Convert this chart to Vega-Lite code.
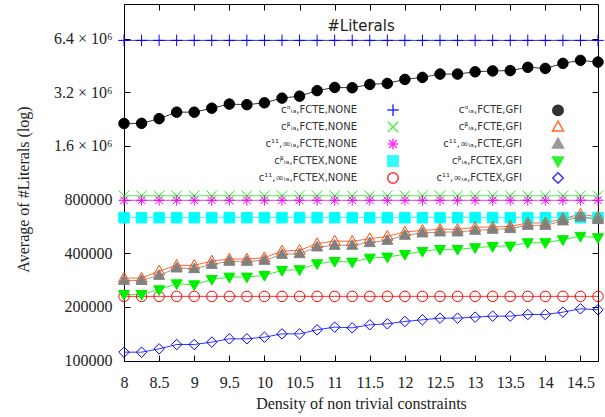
{
  "$schema": "https://vega.github.io/schema/vega-lite/v6.json",
  "width": 474,
  "height": 357,
  "autosize": {"type": "none"},
  "padding": {"left": 124, "top": 4, "right": 7, "bottom": 56},
  "background": "white",
  "config": {
    "view": {"stroke": "black", "strokeWidth": 1},
    "axis": {
      "grid": false, "domain": false, "ticks": true, "tickColor": "black", "tickWidth": 1, "tickSize": -6,
      "labelFont": "Liberation Serif", "labelFontSize": 16, "labelColor": "#222",
      "titleFont": "Liberation Serif", "titleFontSize": 16, "titleFontWeight": "normal", "titleColor": "#222"
    },
    "legend": {
      "title": null, "orient": "none", "legendX": 263, "legendY": 100, "direction": "vertical", "columns": 2,
      "labelFont": "DejaVu Sans", "labelFontSize": 10, "labelColor": "#333", "labelAlign": "right", "labelOffset": -42, "labelLimit": 300,
      "symbolSize": 110, "rowPadding": -1, "columnPadding": 34
    }
  },
  "title": {"text": "#Literals", "frame": "group", "anchor": "middle", "offset": -42, "baseline": "alphabetic", "font": "DejaVu Sans", "fontSize": 15, "fontWeight": "normal", "color": "#222"},
  "data": {"values": [
    {"x":8,"s":"A","y":6250000},{"x":8.25,"s":"A","y":6250000},{"x":8.5,"s":"A","y":6250000},{"x":8.75,"s":"A","y":6250000},{"x":9,"s":"A","y":6250000},{"x":9.25,"s":"A","y":6250000},{"x":9.5,"s":"A","y":6250000},{"x":9.75,"s":"A","y":6250000},{"x":10,"s":"A","y":6250000},{"x":10.25,"s":"A","y":6250000},{"x":10.5,"s":"A","y":6250000},{"x":10.75,"s":"A","y":6250000},{"x":11,"s":"A","y":6250000},{"x":11.25,"s":"A","y":6250000},{"x":11.5,"s":"A","y":6250000},{"x":11.75,"s":"A","y":6250000},{"x":12,"s":"A","y":6250000},{"x":12.25,"s":"A","y":6250000},{"x":12.5,"s":"A","y":6250000},{"x":12.75,"s":"A","y":6250000},{"x":13,"s":"A","y":6250000},{"x":13.25,"s":"A","y":6250000},{"x":13.5,"s":"A","y":6250000},{"x":13.75,"s":"A","y":6250000},{"x":14,"s":"A","y":6250000},{"x":14.25,"s":"A","y":6250000},{"x":14.5,"s":"A","y":6250000},{"x":14.75,"s":"A","y":6250000},
    {"x":8,"s":"B","y":840000},{"x":8.25,"s":"B","y":840000},{"x":8.5,"s":"B","y":840000},{"x":8.75,"s":"B","y":840000},{"x":9,"s":"B","y":840000},{"x":9.25,"s":"B","y":840000},{"x":9.5,"s":"B","y":840000},{"x":9.75,"s":"B","y":840000},{"x":10,"s":"B","y":840000},{"x":10.25,"s":"B","y":840000},{"x":10.5,"s":"B","y":840000},{"x":10.75,"s":"B","y":840000},{"x":11,"s":"B","y":840000},{"x":11.25,"s":"B","y":840000},{"x":11.5,"s":"B","y":840000},{"x":11.75,"s":"B","y":840000},{"x":12,"s":"B","y":840000},{"x":12.25,"s":"B","y":840000},{"x":12.5,"s":"B","y":840000},{"x":12.75,"s":"B","y":840000},{"x":13,"s":"B","y":840000},{"x":13.25,"s":"B","y":840000},{"x":13.5,"s":"B","y":840000},{"x":13.75,"s":"B","y":840000},{"x":14,"s":"B","y":840000},{"x":14.25,"s":"B","y":840000},{"x":14.5,"s":"B","y":840000},{"x":14.75,"s":"B","y":840000},
    {"x":8,"s":"C","y":792000},{"x":8.25,"s":"C","y":792000},{"x":8.5,"s":"C","y":792000},{"x":8.75,"s":"C","y":792000},{"x":9,"s":"C","y":792000},{"x":9.25,"s":"C","y":792000},{"x":9.5,"s":"C","y":792000},{"x":9.75,"s":"C","y":792000},{"x":10,"s":"C","y":792000},{"x":10.25,"s":"C","y":792000},{"x":10.5,"s":"C","y":792000},{"x":10.75,"s":"C","y":792000},{"x":11,"s":"C","y":792000},{"x":11.25,"s":"C","y":792000},{"x":11.5,"s":"C","y":792000},{"x":11.75,"s":"C","y":792000},{"x":12,"s":"C","y":792000},{"x":12.25,"s":"C","y":792000},{"x":12.5,"s":"C","y":792000},{"x":12.75,"s":"C","y":792000},{"x":13,"s":"C","y":792000},{"x":13.25,"s":"C","y":792000},{"x":13.5,"s":"C","y":792000},{"x":13.75,"s":"C","y":792000},{"x":14,"s":"C","y":792000},{"x":14.25,"s":"C","y":792000},{"x":14.5,"s":"C","y":792000},{"x":14.75,"s":"C","y":792000},
    {"x":8,"s":"D","y":633000},{"x":8.25,"s":"D","y":633000},{"x":8.5,"s":"D","y":633000},{"x":8.75,"s":"D","y":633000},{"x":9,"s":"D","y":633000},{"x":9.25,"s":"D","y":633000},{"x":9.5,"s":"D","y":633000},{"x":9.75,"s":"D","y":633000},{"x":10,"s":"D","y":633000},{"x":10.25,"s":"D","y":633000},{"x":10.5,"s":"D","y":633000},{"x":10.75,"s":"D","y":633000},{"x":11,"s":"D","y":633000},{"x":11.25,"s":"D","y":633000},{"x":11.5,"s":"D","y":633000},{"x":11.75,"s":"D","y":633000},{"x":12,"s":"D","y":633000},{"x":12.25,"s":"D","y":633000},{"x":12.5,"s":"D","y":633000},{"x":12.75,"s":"D","y":633000},{"x":13,"s":"D","y":633000},{"x":13.25,"s":"D","y":633000},{"x":13.5,"s":"D","y":633000},{"x":13.75,"s":"D","y":633000},{"x":14,"s":"D","y":633000},{"x":14.25,"s":"D","y":633000},{"x":14.5,"s":"D","y":633000},{"x":14.75,"s":"D","y":633000},
    {"x":8,"s":"E","y":229000},{"x":8.25,"s":"E","y":229000},{"x":8.5,"s":"E","y":229000},{"x":8.75,"s":"E","y":229000},{"x":9,"s":"E","y":229000},{"x":9.25,"s":"E","y":229000},{"x":9.5,"s":"E","y":229000},{"x":9.75,"s":"E","y":229000},{"x":10,"s":"E","y":229000},{"x":10.25,"s":"E","y":229000},{"x":10.5,"s":"E","y":229000},{"x":10.75,"s":"E","y":229000},{"x":11,"s":"E","y":229000},{"x":11.25,"s":"E","y":229000},{"x":11.5,"s":"E","y":229000},{"x":11.75,"s":"E","y":229000},{"x":12,"s":"E","y":229000},{"x":12.25,"s":"E","y":229000},{"x":12.5,"s":"E","y":229000},{"x":12.75,"s":"E","y":229000},{"x":13,"s":"E","y":229000},{"x":13.25,"s":"E","y":229000},{"x":13.5,"s":"E","y":229000},{"x":13.75,"s":"E","y":229000},{"x":14,"s":"E","y":229000},{"x":14.25,"s":"E","y":229000},{"x":14.5,"s":"E","y":229000},{"x":14.75,"s":"E","y":229000},
    {"x":8,"s":"F","y":2137000},{"x":8.25,"s":"F","y":2140000},{"x":8.5,"s":"F","y":2274000},{"x":8.75,"s":"F","y":2474000},{"x":9,"s":"F","y":2474000},{"x":9.25,"s":"F","y":2604000},{"x":9.5,"s":"F","y":2744000},{"x":9.75,"s":"F","y":2725000},{"x":10,"s":"F","y":2789000},{"x":10.25,"s":"F","y":2965000},{"x":10.5,"s":"F","y":3042000},{"x":10.75,"s":"F","y":3266000},{"x":11,"s":"F","y":3404000},{"x":11.25,"s":"F","y":3390000},{"x":11.5,"s":"F","y":3539000},{"x":11.75,"s":"F","y":3585000},{"x":12,"s":"F","y":3776000},{"x":12.25,"s":"F","y":3875000},{"x":12.5,"s":"F","y":4044000},{"x":12.75,"s":"F","y":4044000},{"x":13,"s":"F","y":4166000},{"x":13.25,"s":"F","y":4214000},{"x":13.5,"s":"F","y":4230000},{"x":13.75,"s":"F","y":4415000},{"x":14,"s":"F","y":4353000},{"x":14.25,"s":"F","y":4644000},{"x":14.5,"s":"F","y":4828000},{"x":14.75,"s":"F","y":4723000},
    {"x":8,"s":"G","y":290100},{"x":8.25,"s":"G","y":290000},{"x":8.5,"s":"G","y":317700},{"x":8.75,"s":"G","y":341800},{"x":9,"s":"G","y":342000},{"x":9.25,"s":"G","y":361500},{"x":9.5,"s":"G","y":370900},{"x":9.75,"s":"G","y":371000},{"x":10,"s":"G","y":377400},{"x":10.25,"s":"G","y":411400},{"x":10.5,"s":"G","y":415000},{"x":10.75,"s":"G","y":452300},{"x":11,"s":"G","y":468200},{"x":11.25,"s":"G","y":466200},{"x":11.5,"s":"G","y":482600},{"x":11.75,"s":"G","y":497400},{"x":12,"s":"G","y":526000},{"x":12.25,"s":"G","y":537500},{"x":12.5,"s":"G","y":544500},{"x":12.75,"s":"G","y":544500},{"x":13,"s":"G","y":558700},{"x":13.25,"s":"G","y":561200},{"x":13.5,"s":"G","y":566000},{"x":13.75,"s":"G","y":591000},{"x":14,"s":"G","y":591000},{"x":14.25,"s":"G","y":625000},{"x":14.5,"s":"G","y":662000},{"x":14.75,"s":"G","y":639000},
    {"x":8,"s":"H","y":281400},{"x":8.25,"s":"H","y":281000},{"x":8.5,"s":"H","y":300300},{"x":8.75,"s":"H","y":330200},{"x":9,"s":"H","y":327300},{"x":9.25,"s":"H","y":346200},{"x":9.5,"s":"H","y":359900},{"x":9.75,"s":"H","y":360000},{"x":10,"s":"H","y":364600},{"x":10.25,"s":"H","y":393900},{"x":10.5,"s":"H","y":397300},{"x":10.75,"s":"H","y":433200},{"x":11,"s":"H","y":442700},{"x":11.25,"s":"H","y":443000},{"x":11.5,"s":"H","y":458200},{"x":11.75,"s":"H","y":472200},{"x":12,"s":"H","y":503800},{"x":12.25,"s":"H","y":519300},{"x":12.5,"s":"H","y":526000},{"x":12.75,"s":"H","y":526000},{"x":13,"s":"H","y":537500},{"x":13.25,"s":"H","y":544500},{"x":13.5,"s":"H","y":549200},{"x":13.75,"s":"H","y":573300},{"x":14,"s":"H","y":573300},{"x":14.25,"s":"H","y":606500},{"x":14.5,"s":"H","y":638700},{"x":14.75,"s":"H","y":617000},
    {"x":8,"s":"I","y":234900},{"x":8.25,"s":"I","y":235000},{"x":8.5,"s":"I","y":249500},{"x":8.75,"s":"I","y":269600},{"x":9,"s":"I","y":266100},{"x":9.25,"s":"I","y":285100},{"x":9.5,"s":"I","y":293800},{"x":9.75,"s":"I","y":294000},{"x":10,"s":"I","y":300300},{"x":10.25,"s":"I","y":320400},{"x":10.5,"s":"I","y":323200},{"x":10.75,"s":"I","y":349300},{"x":11,"s":"I","y":359900},{"x":11.25,"s":"I","y":356800},{"x":11.5,"s":"I","y":375700},{"x":11.75,"s":"I","y":380600},{"x":12,"s":"I","y":393900},{"x":12.25,"s":"I","y":409700},{"x":12.5,"s":"I","y":420400},{"x":12.75,"s":"I","y":420400},{"x":13,"s":"I","y":429500},{"x":13.25,"s":"I","y":436900},{"x":13.5,"s":"I","y":438800},{"x":13.75,"s":"I","y":458200},{"x":14,"s":"I","y":458200},{"x":14.25,"s":"I","y":476400},{"x":14.5,"s":"I","y":497400},{"x":14.75,"s":"I","y":488900},
    {"x":8,"s":"J","y":111400},{"x":8.25,"s":"J","y":111400},{"x":8.5,"s":"J","y":116300},{"x":8.75,"s":"J","y":123000},{"x":9,"s":"J","y":123000},{"x":9.25,"s":"J","y":126800},{"x":9.5,"s":"J","y":132400},{"x":9.75,"s":"J","y":132400},{"x":10,"s":"J","y":135200},{"x":10.25,"s":"J","y":141100},{"x":10.5,"s":"J","y":141100},{"x":10.75,"s":"J","y":148700},{"x":11,"s":"J","y":153900},{"x":11.25,"s":"J","y":152600},{"x":11.5,"s":"J","y":158600},{"x":11.75,"s":"J","y":160700},{"x":12,"s":"J","y":165600},{"x":12.25,"s":"J","y":169200},{"x":12.5,"s":"J","y":172900},{"x":12.75,"s":"J","y":172900},{"x":13,"s":"J","y":175200},{"x":13.25,"s":"J","y":177400},{"x":13.5,"s":"J","y":177400},{"x":13.75,"s":"J","y":181300},{"x":14,"s":"J","y":181300},{"x":14.25,"s":"J","y":186800},{"x":14.5,"s":"J","y":195100},{"x":14.75,"s":"J","y":192600}
  ]},
  "layer": [
    {
      "mark": {"type": "line", "strokeWidth": 1, "opacity": 0.8},
      "encoding": {
        "x": {"field": "x", "type": "quantitative", "scale": {"domain": [8, 14.75], "nice": false, "zero": false},
          "axis": {"orient": "bottom", "values": [8, 8.5, 9, 9.5, 10, 10.5, 11, 11.5, 12, 12.5, 13, 13.5, 14, 14.5], "format": "~g", "labelFlush": false, "labelPadding": 19, "title": "Density of non trivial constraints", "titleY": 47, "titleBaseline": "alphabetic"}},
        "y": {"field": "y", "type": "quantitative", "scale": {"type": "log", "domain": [99400, 10000000], "nice": false},
          "axis": {"orient": "left", "values": [100000, 200000, 400000, 800000, 1600000, 3200000, 6400000], "labelExpr": "datum.value >= 1000000 ? format(datum.value / 1000000, '.1f') + ' × 10⁶' : format(datum.value, 'd')", "labelPadding": 18, "labelFlush": false, "title": "Average of #Literals (log)", "titleX": -101, "titleY": 185, "titleAngle": -90, "titleBaseline": "middle"}},
        "stroke": {"field": "s", "type": "nominal",
          "scale": {"domain": ["A","B","C","D","E","F","G","H","I","J"], "range": ["#0000ff","#22ee22","#ff00ff","#00ffff","#ff0000","#000000","#ff4500","#808080","#00ee00","#0000ff"]},
          "legend": {
            "labelExpr": "['cᵅᵢₐ,FCTE,NONE','cᵝᵢₐ,FCTE,NONE','c¹¹,∞ᵢₐ,FCTE,NONE','cᵝᵢₐ,FCTEX,NONE','c¹¹,∞ᵢₐ,FCTEX,NONE','cᵅᵢₐ,FCTE,GFI','cᵝᵢₐ,FCTE,GFI','c¹¹,∞ᵢₐ,FCTE,GFI','cᵝᵢₐ,FCTEX,GFI','c¹¹,∞ᵢₐ,FCTEX,GFI'][indexof(['A','B','C','D','E','F','G','H','I','J'], datum.value)]"
          }}
      }
    },
    {
      "mark": {"type": "point", "size": 110, "strokeWidth": 1, "opacity": 1},
      "encoding": {
        "x": {"field": "x", "type": "quantitative", "scale": {"domain": [8, 14.75], "nice": false, "zero": false},
          "axis": {"orient": "top", "values": [8, 8.5, 9, 9.5, 10, 10.5, 11, 11.5, 12, 12.5, 13, 13.5, 14, 14.5], "labels": false, "title": null}},
        "y": {"field": "y", "type": "quantitative", "scale": {"type": "log", "domain": [99400, 10000000], "nice": false},
          "axis": {"orient": "right", "values": [100000, 200000, 400000, 800000, 1600000, 3200000, 6400000], "labels": false, "title": null}},
        "stroke": {"field": "s", "type": "nominal",
          "scale": {"domain": ["A","B","C","D","E","F","G","H","I","J"], "range": ["#0000ff","#22ee22","#ff00ff","#00ffff","#ff0000","#000000","#ff4500","#808080","#00ee00","#0000ff"]},
          "legend": {
            "labelExpr": "['cᵅᵢₐ,FCTE,NONE','cᵝᵢₐ,FCTE,NONE','c¹¹,∞ᵢₐ,FCTE,NONE','cᵝᵢₐ,FCTEX,NONE','c¹¹,∞ᵢₐ,FCTEX,NONE','cᵅᵢₐ,FCTE,GFI','cᵝᵢₐ,FCTE,GFI','c¹¹,∞ᵢₐ,FCTE,GFI','cᵝᵢₐ,FCTEX,GFI','c¹¹,∞ᵢₐ,FCTEX,GFI'][indexof(['A','B','C','D','E','F','G','H','I','J'], datum.value)]"
          }},
        "fill": {"field": "s", "type": "nominal", "legend": null,
          "scale": {"domain": ["A","B","C","D","E","F","G","H","I","J"], "range": ["transparent","transparent","transparent","#00ffff","transparent","#000000","transparent","#808080","#00ee00","transparent"]}},
        "shape": {"field": "s", "type": "nominal", "legend": null,
          "scale": {"domain": ["A","B","C","D","E","F","G","H","I","J"], "range": [
            "M-1.1,0H1.1M0,-1.1V1.1",
            "M-1,-1L1,1M-1,1L1,-1",
            "M-1,0H1M0,-1V1M-0.75,-0.75L0.75,0.75M-0.75,0.75L0.75,-0.75",
            "M-1,-1H1V1H-1Z",
            "M1,0A1,1,0,1,1,-1,0A1,1,0,1,1,1,0Z",
            "M1,0A1,1,0,1,1,-1,0A1,1,0,1,1,1,0Z",
            "M0,-1.1L1.05,0.75L-1.05,0.75Z",
            "M0,-1.1L1.05,0.75L-1.05,0.75Z",
            "M0,1.1L1.05,-0.75L-1.05,-0.75Z",
            "M0,-1L1,0L0,1L-1,0Z"
          ]}}
      }
    }
  ]
}
